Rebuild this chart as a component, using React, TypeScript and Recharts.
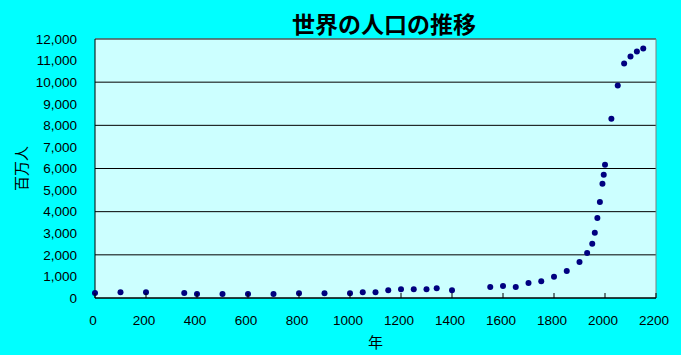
import { CartesianGrid, ReferenceLine, Scatter, ScatterChart, XAxis, YAxis } from 'recharts'

// 年（西暦）
const years = [
  0, 100, 200, 350, 400, 500, 600, 700, 800, 900, 1000, 1050, 1100, 1150, 1200, 1250, 1300, 1340, 1400,
  1550, 1600, 1650, 1700, 1750, 1800, 1850, 1900, 1930, 1950, 1960, 1970, 1980, 1990, 1995, 2000,
  2025, 2050, 2075, 2100, 2125, 2150,
]

// 人口（百万人）
const population = [
  230, 270, 270, 230, 190, 190, 190, 190, 220, 220, 220, 265, 265, 355, 400, 400, 400, 450, 355,
  510, 555, 510, 700, 780, 980, 1250, 1670, 2090, 2510, 3020, 3710, 4450, 5290, 5710, 6170,
  8310, 9850, 10860, 11190, 11420, 11560,
]

const xTicks = [0, 200, 400, 600, 800, 1000, 1200, 1400, 1600, 1800, 2000, 2200]
const yTicks = [0, 1000, 2000, 3000, 4000, 5000, 6000, 7000, 8000, 9000, 10000, 11000, 12000]

const title = '世界の人口の推移'
const xLabel = '年'
const yLabel = '百万人'

const rows = years.map((year, i) => ({ year, pop: population[i] }))

const numFont = '"Liberation Sans", Arial, sans-serif'
const jpFont = '"Noto Sans CJK JP", sans-serif'

// 目盛りは内向き（Excel風）
function XTick(props: any) {
  const { x, y, payload } = props
  return (
    <g>
      <line x1={x} x2={x} y1={y} y2={y - 5} stroke="#000" />
      <text x={x - 2} y={y + 27} textAnchor="middle" fontFamily={numFont} fontSize={13.5} fill="#000">
        {payload.value}
      </text>
    </g>
  )
}

function Dot(props: any) {
  return <circle cx={props.cx} cy={props.cy} r={3} fill="#000080" />
}

export default function App() {
  return (
    <div style={{ position: 'relative', width: 681, height: 355, background: '#00FFFF', overflow: 'hidden' }}>
      <style>{'body{margin:0}'}</style>
      <div
        style={{
          position: 'absolute',
          left: 234,
          width: 300,
          top: 9,
          lineHeight: '28px',
          textAlign: 'center',
          fontFamily: jpFont,
          fontWeight: 700,
          fontSize: 23,
          color: '#000',
        }}
      >
        {title}
      </div>
      <ScatterChart width={681} height={355} margin={{ top: 39, right: 25, bottom: 0, left: 15 }}>
        <CartesianGrid vertical={false} stroke="#000" fill="#CCFFFF" fillOpacity={1} />
        <XAxis
          type="number"
          dataKey="year"
          domain={[0, 2200]}
          ticks={xTicks}
          height={57}
          axisLine={{ stroke: '#000' }}
          tickLine={false}
          tickSize={0}
          tickMargin={0}
          tick={<XTick />}
          label={{
            content: (p: any) => (
              <text
                x={p.viewBox.x + p.viewBox.width / 2}
                y={p.viewBox.y + 50}
                textAnchor="middle"
                fontFamily={jpFont}
                fontSize={15}
                fill="#000"
              >
                {xLabel}
              </text>
            ),
          }}
        />
        <YAxis
          type="number"
          dataKey="pop"
          domain={[0, 12000]}
          ticks={yTicks}
          width={80}
          axisLine={{ stroke: '#000' }}
          tickLine={false}
          tickSize={0}
          tickMargin={18}
          tick={{ fill: '#000', fontSize: 13.5, fontFamily: numFont }}
          tickFormatter={(v: number) => v.toLocaleString('en-US')}
          label={{
            content: (p: any) => {
              const cx = 20
              const cy = p.viewBox.y + p.viewBox.height / 2
              return (
                <text
                  x={cx}
                  y={cy}
                  transform={`rotate(-90 ${cx} ${cy})`}
                  textAnchor="middle"
                  dominantBaseline="central"
                  fontFamily={jpFont}
                  fontSize={15}
                  fill="#000"
                >
                  {yLabel}
                </text>
              )
            },
          }}
        />
        <ReferenceLine y={12000} stroke="#808080" />
        <ReferenceLine x={2200} stroke="#808080" />
        <Scatter data={rows} shape={<Dot />} isAnimationActive={false} />
      </ScatterChart>
    </div>
  )
}
